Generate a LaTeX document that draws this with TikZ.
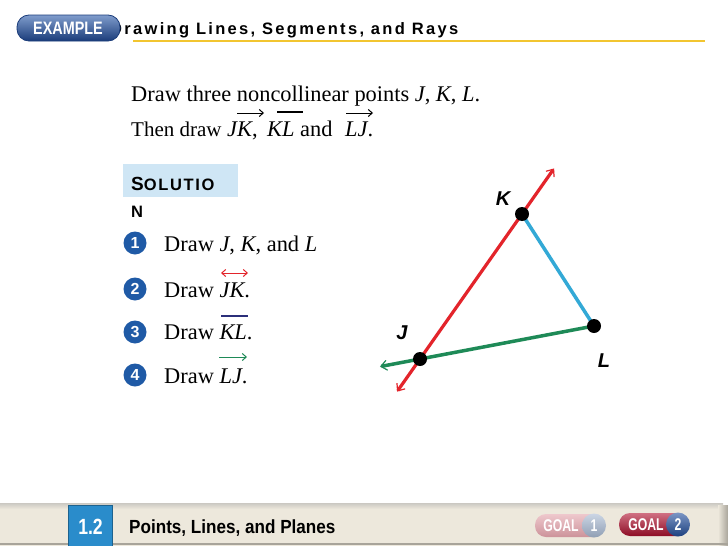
\documentclass[tikz,border=0pt]{standalone}
\usepackage{fontspec}
\setmainfont{Liberation Serif}
\newfontfamily\hel{Liberation Sans}
\newfontfamily\heltitle[LetterSpace=14]{Liberation Sans}
\newfontfamily\helsp[LetterSpace=10]{Liberation Sans}
\newfontfamily\cond[FakeStretch=0.8]{Liberation Sans}
\newfontfamily\condb[FakeStretch=0.9]{Liberation Sans}
\newfontfamily\condg[FakeStretch=0.72]{Liberation Sans}
\usetikzlibrary{arrows.meta,calc}
\definecolor{exblue}{HTML}{2B5BAA}
\definecolor{exdark}{HTML}{1A3C7A}
\definecolor{ylw}{HTML}{F2C530}
\definecolor{solbg}{HTML}{CFE6F5}
\definecolor{stepblue}{HTML}{1F5AA6}
\definecolor{rayred}{HTML}{E3242B}
\definecolor{raygreen}{HTML}{1E8A57}
\definecolor{segblue}{HTML}{33A9D6}
\definecolor{navy}{HTML}{2B2F7A}
\definecolor{footbg}{HTML}{EDE8DC}
\definecolor{footline}{HTML}{A8A49A}
\definecolor{secblue}{HTML}{2A8CCB}
\definecolor{goalpink}{HTML}{E3A3AB}
\definecolor{goalgray}{HTML}{A9BAD3}
\definecolor{goalred}{HTML}{B0102E}
\definecolor{goalnavy}{HTML}{24509E}
\tikzset{
  smallhead/.tip={Straight Barb[length=4pt,width=7pt]},
  bighead/.tip={Straight Barb[length=6pt,width=10pt,line width=1.2pt]}
}
\begin{document}
\begin{tikzpicture}[x=1pt,y=-1pt,
  txt/.style={anchor=base west,inner sep=0pt,font=\fontsize{22.4}{26}\selectfont},
  stepnum/.style={circle,fill=stepblue,inner sep=0pt,minimum size=23pt,text=white,font=\hel\bfseries\fontsize{16}{16}\selectfont},
  dot/.style={circle,fill=black,inner sep=0pt,minimum size=14pt},
  ptlabel/.style={font=\hel\bfseries\itshape\fontsize{20}{20}\selectfont},
  accent/.style={line width=1pt},
  goaltxt/.style={text=white,font=\condg\bfseries\fontsize{17}{17}\selectfont,inner sep=0pt}
]
\useasboundingbox (0,0) rectangle (728,546);
\fill[white] (0,0) rectangle (728,546);

% ---------- header ----------
\node[anchor=base west,inner sep=0pt,font=\heltitle\bfseries\fontsize{16.5}{18}\selectfont] (title) at (110,34) {Drawing Lines, Segments, and Rays};
\draw[ylw,line width=1.5pt] (133,41) -- (705,41);
\shade[top color=exblue!60!white,bottom color=exdark,rounded corners=12pt] (17,15) rectangle (120,41);
\draw[exdark,line width=0.8pt,rounded corners=12pt] (17,15) rectangle (120,41);
\node[text=white,font=\cond\bfseries\fontsize{18}{18}\selectfont,inner sep=0pt] (example) at (68,28) {EXAMPLE};

% ---------- problem ----------
\node[txt] (p1) at (131,101) {Draw three noncollinear points \textit{J}, \textit{K}, \textit{L}.};
\node[txt,font=\fontsize{21}{26}\selectfont] (p2a) at (131,136) {Then draw};
\node[txt] (p2b) at (227,136) {\textit{JK},};
\node[txt] (p2c) at (267,136) {\textit{KL} and};
\node[txt] (p2d) at (345,136) {\textit{LJ}.};
\draw[accent,-{smallhead}] (237,113) -- (264,113);
\draw[line width=1.5pt] (277,112) -- (303,112);
\draw[accent,-{smallhead}] (346,113) -- (373,113);

% ---------- solution ----------
\fill[solbg] (123,164) rectangle (238,197);
\node[anchor=base west,inner sep=0pt,font=\helsp\bfseries\fontsize{19}{19}\selectfont] (sol) at (131,190) {S\fontsize{16.5}{16.5}\selectfont OLUTIO};
\node[anchor=base west,inner sep=0pt,font=\hel\bfseries\fontsize{16.5}{16.5}\selectfont] (soln) at (131,217) {N};

\node[stepnum] (s1) at (135,243) {1};
\node[stepnum] (s2) at (135,289) {2};
\node[stepnum] (s3) at (135,332) {3};
\node[stepnum] (s4) at (135,375) {4};
\node[txt] (t1) at (164,251) {Draw \textit{J}, \textit{K}, and \textit{L}};
\node[txt] (t2) at (164,297) {Draw \textit{JK}.};
\node[txt] (t3) at (164,339) {Draw \textit{KL}.};
\node[txt] (t4) at (164,383) {Draw \textit{LJ}.};
\draw[accent,rayred,{smallhead}-{smallhead}] (221,273) -- (248,273);
\draw[navy,line width=1.5pt] (221,316) -- (248,316);
\draw[accent,raygreen,-{smallhead}] (219,357) -- (247,357);

% ---------- figure ----------
\coordinate (J) at (420,359);
\coordinate (K) at (522,214);
\coordinate (L) at (594,326);
\coordinate (Jend) at ($(L)!1.23!(J)$);
\coordinate (Rlow) at ($(J)!-0.225!(K)$);
\coordinate (Rhigh) at ($(J)!1.314!(K)$);
\draw[raygreen,line width=3.5pt,-{bighead}] (L) -- (Jend);
\draw[segblue,line width=3.5pt] (K) -- (L);
\draw[rayred,line width=3.2pt,{bighead}-{bighead}] (Rlow) -- (Rhigh);
\node[dot] (dJ) at (J) {};
\node[dot] (dK) at (K) {};
\node[dot] (dL) at (L) {};
\node[ptlabel] (lK) at (503,199) {K};
\node[ptlabel] (lJ) at (402,333) {J};
\node[ptlabel] (lL) at (604,361) {L};

% ---------- footer ----------
\fill[footbg] (0,505) rectangle (728,546);
\shade[top color=footline!60!white,bottom color=footbg] (0,503) rectangle (723,509);
\shade[left color=footbg,right color=footline] (718,505) rectangle (728,546);
\draw[footline,line width=2pt] (0,544) -- (728,544);
\fill[secblue] (68,505) rectangle (113,546);
\draw[secblue!70!black,line width=1pt] (68.5,505.5) rectangle (112.5,546);
\node[text=white,font=\cond\bfseries\fontsize{22}{22}\selectfont,inner sep=0pt] (sec) at (90.5,527) {1.2};
\node[anchor=base west,inner sep=0pt,font=\condb\bfseries\fontsize{19}{19}\selectfont] (sectitle) at (129,533) {Points, Lines, and Planes};

\shade[top color=goalpink!60!white,bottom color=goalpink!90!black,rounded corners=11pt] (535,514) rectangle (604,537);
\node[circle,minimum size=24pt,inner sep=0pt,shade,top color=goalgray!60!white,bottom color=goalgray!85!black,text=white,font=\condg\bfseries\fontsize{17}{17}\selectfont] (g1c) at (594,525.5) {1};
\node[goaltxt] (g1) at (561,525.5) {GOAL};

\shade[top color=goalred!60!white,bottom color=goalred!80!black,rounded corners=11pt] (619,513) rectangle (688,536);
\node[circle,minimum size=24pt,inner sep=0pt,shade,top color=goalnavy!60!white,bottom color=goalnavy!80!black,text=white,font=\condg\bfseries\fontsize{17}{17}\selectfont] (g2c) at (678,524.5) {2};
\node[goaltxt] (g2) at (646,524.5) {GOAL};
\end{tikzpicture}
\end{document}
